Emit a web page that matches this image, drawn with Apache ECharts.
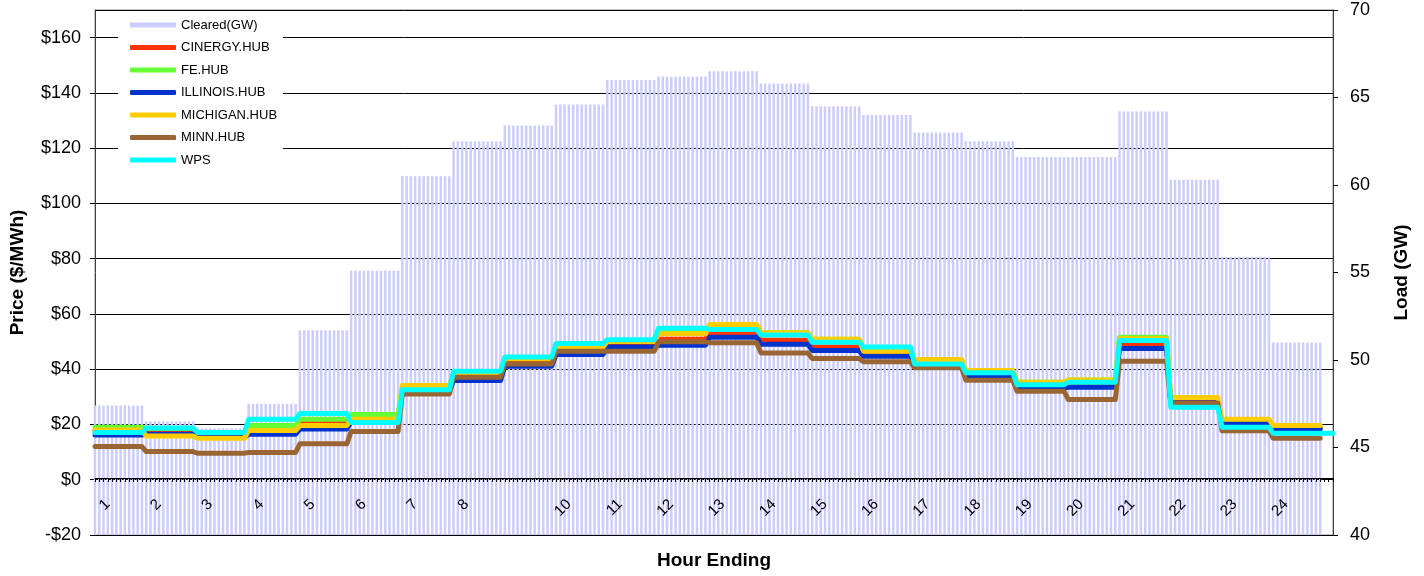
<!DOCTYPE html>
<html>
<head>
<meta charset="utf-8">
<script src="https://cdn.jsdelivr.net/npm/echarts@6/dist/echarts.min.js"></script>
<style>
    html, body { margin: 0; padding: 0; background: #fff; }
    #chart { width: 1424px; height: 576px; }
</style>
</head>
<body>
<div id="chart"></div>
<script type="text/javascript">
    // hour ending tick labels (9 is not printed on the original axis)
    var hourLabels = ['1','2','3','4','5','6','7','8','','10','11','12','13','14','15','16','17','18','19','20','21','22','23','24'];

    // cleared load per hour, GW
    var clearedGW = [47.4, 46.5, 46.1, 47.5, 51.7, 55.1, 60.5, 62.5, 63.4, 64.6, 66.0, 66.2, 66.5, 65.8, 64.5, 64.0, 63.0, 62.5, 61.6, 61.6, 64.2, 60.3, 55.9, 51.0];

    // hub prices per hour, $/MWh
    var cinergy  = [17.9, 17.2, 16.0, 18.0, 21.1, 22.0, 33.0, 37.0, 42.7, 47.4, 49.2, 50.8, 53.0, 50.5, 48.0, 46.5, 41.5, 37.5, 33.5, 34.0, 48.7, 28.4, 20.8, 18.8];
    var feHub    = [19.0, 18.5, 17.0, 19.6, 21.9, 23.6, 33.5, 38.5, 44.0, 48.5, 50.2, 54.0, 56.0, 53.2, 50.8, 47.5, 42.0, 39.5, 35.3, 36.1, 51.6, 27.0, 20.5, 18.5];
    var illinois = [16.2, 16.5, 15.3, 16.5, 18.4, 21.0, 32.0, 35.9, 41.1, 45.3, 48.0, 48.7, 51.6, 49.0, 46.8, 44.7, 41.0, 37.1, 33.1, 33.5, 47.5, 27.9, 20.5, 18.4];
    var michigan = [18.0, 15.8, 15.0, 17.8, 19.6, 21.9, 34.1, 38.3, 43.8, 48.0, 50.0, 52.8, 56.2, 53.2, 50.8, 46.5, 43.5, 39.5, 35.3, 36.1, 51.0, 29.8, 21.9, 19.6];
    var minn     = [12.0, 10.2, 9.6, 9.9, 13.0, 17.5, 31.0, 37.1, 41.9, 46.5, 46.5, 49.9, 49.6, 45.9, 43.9, 42.7, 40.5, 36.0, 32.0, 29.0, 42.9, 27.8, 17.7, 15.0];
    var wps      = [17.1, 18.7, 17.1, 21.9, 24.0, 20.7, 32.6, 39.3, 44.4, 49.3, 50.7, 54.8, 54.4, 52.4, 49.8, 48.0, 41.9, 38.7, 34.4, 35.3, 50.4, 26.2, 19.0, 16.8];
    // WPS runs a few intervals past hour 24
    var wpsTail  = [16.8, 16.8, 16.8];

    var perHour = 12; // 5 minute intervals
    var tailNulls = [null, null, null];

    // each hourly value holds for all of its intervals
    function perInterval(hourly) {
        var out = [];
        hourly.forEach(function (v) {
            for (var k = 0; k < perHour; k++) out.push(v);
        });
        return out;
    }

    var categories = [];
    hourLabels.forEach(function (h) {
        for (var k = 0; k < perHour; k++) categories.push(h);
    });
    wpsTail.forEach(function () { categories.push(''); });

    var font = 'Liberation Sans, Arial, sans-serif';

    function lineSeries(name, color, hourly, tail, z) {
        return {
            name: name,
            type: 'line',
            yAxisIndex: 0,
            data: perInterval(hourly).concat(tail),
            showSymbol: false,
            symbol: 'none',
            z: z,
            itemStyle: { color: color },
            lineStyle: { color: color, width: 5, cap: 'round', join: 'round' }
        };
    }

    var chart = echarts.init(document.getElementById('chart'));
    chart.setOption({
        animation: false,
        backgroundColor: '#fff',
        textStyle: { fontFamily: font, color: '#000' },
        grid: {
            left: 95, right: 91, top: 10, bottom: 41,
            outerBoundsMode: 'none',
            containLabel: false,
            show: true,
            borderColor: '#888',
            borderWidth: 1
        },
        legend: {
            left: 118, top: 13,
            orient: 'vertical',
            backgroundColor: '#fff',
            padding: [5, 6, 5, 12],
            itemWidth: 46, itemHeight: 5,
            itemGap: 8.5,
            selectedMode: false,
            textStyle: { fontFamily: font, fontSize: 13, color: '#000', lineHeight: 14 },
            data: [
                { name: 'Cleared(GW)', icon: 'rect' },
                { name: 'CINERGY.HUB', icon: 'roundRect' },
                { name: 'FE.HUB', icon: 'roundRect' },
                { name: 'ILLINOIS.HUB', icon: 'roundRect' },
                { name: 'MICHIGAN.HUB', icon: 'roundRect' },
                { name: 'MINN.HUB', icon: 'roundRect' },
                { name: 'WPS', icon: 'roundRect' }
            ]
        },
        xAxis: {
            type: 'category',
            boundaryGap: false,
            data: categories,
            position: 'bottom',
            // axis sits on $0, which is 57px above the bottom of the plot
            offset: -57,
            z: 5,
            name: 'Hour Ending',
            nameLocation: 'middle',
            nameGap: 73,
            nameTextStyle: { fontFamily: font, fontSize: 19, fontWeight: 'bold', color: '#000' },
            axisLine: { onZero: false, lineStyle: { color: '#000', width: 1 } },
            axisTick: { interval: 0, length: 4, lineStyle: { color: '#000' } },
            axisLabel: {
                interval: function (index) { return index % perHour === 3 && index < hourLabels.length * perHour; },
                rotate: 45,
                margin: 24,
                fontSize: 15,
                color: '#000'
            },
            splitLine: { show: false }
        },
        yAxis: [{
            type: 'value',
            position: 'left',
            min: -20, max: 170, interval: 20,
            name: 'Price ($/MWh)',
            nameLocation: 'middle',
            nameRotate: 90,
            nameGap: 68,
            nameTextStyle: { fontFamily: font, fontSize: 19, fontWeight: 'bold', color: '#000' },
            axisLine: { show: true, lineStyle: { color: '#404040' } },
            axisTick: { show: true, length: 5, lineStyle: { color: '#000' } },
            axisLabel: {
                fontSize: 18, margin: 14, color: '#000',
                showMaxLabel: false,
                formatter: function (v) { return v < 0 ? '-$' + Math.abs(v) : '$' + v; }
            },
            splitLine: { show: true, lineStyle: { color: '#000', width: 1 } }
        }, {
            type: 'value',
            position: 'right',
            min: 40, max: 70, interval: 5,
            name: 'Load (GW)',
            nameLocation: 'middle',
            nameRotate: 90,
            nameGap: 59,
            nameTextStyle: { fontFamily: font, fontSize: 19, fontWeight: 'bold', color: '#000' },
            axisLine: { show: true, lineStyle: { color: '#404040' } },
            axisTick: { show: true, length: 5, lineStyle: { color: '#000' } },
            axisLabel: { fontSize: 18, margin: 17, color: '#000' },
            splitLine: { show: false }
        }],
        series: [{
            name: 'Cleared(GW)',
            type: 'bar',
            yAxisIndex: 1,
            barWidth: 2.5,
            data: perInterval(clearedGW).concat(tailNulls),
            itemStyle: { color: '#ccccff' },
            z: 1
        },
            lineSeries('CINERGY.HUB', '#ff3300', cinergy, tailNulls, 3),
            lineSeries('FE.HUB', '#66ff33', feHub, tailNulls, 4),
            lineSeries('ILLINOIS.HUB', '#0033cc', illinois, tailNulls, 5),
            lineSeries('MICHIGAN.HUB', '#ffcc00', michigan, tailNulls, 6),
            lineSeries('MINN.HUB', '#996633', minn, tailNulls, 7),
            lineSeries('WPS', '#00ffff', wps, wpsTail, 8)
        ]
    });
</script>
</body>
</html>
